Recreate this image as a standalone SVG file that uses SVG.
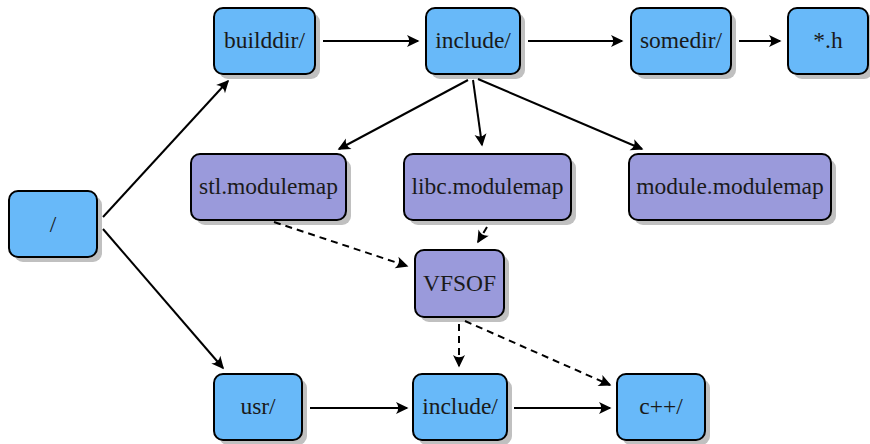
<svg xmlns="http://www.w3.org/2000/svg" width="870" height="444" viewBox="0 0 870 444">
<style>
.sh{fill:#c0c0c0;stroke:none}
.b{fill:#68b9f9;stroke:#000;stroke-width:2}
.p{fill:#9a9adb;stroke:#000;stroke-width:2}
.c{fill:none;stroke:#000;stroke-width:2;marker-end:url(#ah)}
.d{stroke-dasharray:7 5}
</style>
<defs>
<marker id="ah" markerUnits="userSpaceOnUse" markerWidth="16" markerHeight="14" viewBox="-13 -7 16 14" refX="0" refY="0" orient="auto">
<path d="M1.5,0 L-11,-6 Q-6.5,0 -11,6 Z" fill="#000"/>
</marker>
</defs>
<g font-family="Liberation Serif, Times New Roman, DejaVu Serif, serif" font-size="23.5" text-anchor="middle" fill="#1a1a1a">
<g id="root"><rect class="sh" x="14" y="196" width="88" height="66" rx="9"/><rect class="b" x="9" y="191" width="88" height="66" rx="9"/><text x="53" y="232">/</text></g>
<g id="builddir"><rect class="sh" x="219" y="13" width="101" height="66" rx="9"/><rect class="b" x="214" y="8" width="101" height="66" rx="9"/><text x="264.5" y="48">builddir/</text></g>
<g id="include1"><rect class="sh" x="431" y="13" width="94" height="66" rx="9"/><rect class="b" x="426" y="8" width="94" height="66" rx="9"/><text x="473" y="48">include/</text></g>
<g id="somedir"><rect class="sh" x="636" y="13" width="100" height="66" rx="9"/><rect class="b" x="631" y="8" width="100" height="66" rx="9"/><text x="681" y="48">somedir/</text></g>
<g id="star-h"><rect class="sh" x="793" y="13" width="80" height="66" rx="9"/><rect class="b" x="788" y="8" width="80" height="66" rx="9"/><text x="828" y="48">*.h</text></g>
<g id="stl"><rect class="sh" x="196" y="159" width="155" height="66" rx="9"/><rect class="p" x="191" y="154" width="155" height="66" rx="9"/><text x="268.5" y="194">stl.modulemap</text></g>
<g id="libc"><rect class="sh" x="409" y="159" width="167" height="66" rx="9"/><rect class="p" x="404" y="154" width="167" height="66" rx="9"/><text x="487.5" y="194">libc.modulemap</text></g>
<g id="module"><rect class="sh" x="634" y="159" width="202" height="66" rx="9"/><rect class="p" x="629" y="154" width="202" height="66" rx="9"/><text x="730" y="194">module.modulemap</text></g>
<g id="vfsof"><rect class="sh" x="420" y="255" width="89" height="67" rx="9"/><rect class="p" x="415" y="250" width="89" height="67" rx="9"/><text x="459.5" y="291">VFSOF</text></g>
<g id="usr"><rect class="sh" x="219" y="379" width="88" height="66" rx="9"/><rect class="b" x="214" y="374" width="88" height="66" rx="9"/><text x="258" y="414">usr/</text></g>
<g id="include2"><rect class="sh" x="418" y="379" width="94" height="66" rx="9"/><rect class="b" x="413" y="374" width="94" height="66" rx="9"/><text x="460" y="414">include/</text></g>
<g id="cpp"><rect class="sh" x="622" y="379" width="88" height="66" rx="9"/><rect class="b" x="617" y="374" width="88" height="66" rx="9"/><text x="661" y="414">c++/</text></g>
</g>
<g id="connectors">
<line class="c" x1="103" y1="217" x2="228" y2="81"/>
<line class="c" x1="103" y1="229" x2="223" y2="368"/>
<line class="c" x1="323" y1="41" x2="418" y2="41"/>
<line class="c" x1="528" y1="41" x2="622" y2="41"/>
<line class="c" x1="739" y1="41" x2="780" y2="41"/>
<line class="c" x1="468" y1="80" x2="339" y2="149"/>
<line class="c" x1="473" y1="80" x2="482" y2="145"/>
<line class="c" x1="478" y1="79" x2="642" y2="149"/>
<line class="c d" x1="274" y1="222" x2="407" y2="266"/>
<line class="c d" x1="487" y1="227" x2="478" y2="242"/>
<line class="c d" x1="459" y1="324" x2="459" y2="366"/>
<line class="c d" x1="465" y1="321" x2="610" y2="385"/>
<line class="c" x1="310" y1="408" x2="407" y2="408"/>
<line class="c" x1="514" y1="408" x2="610" y2="408"/>
</g>
</svg>
